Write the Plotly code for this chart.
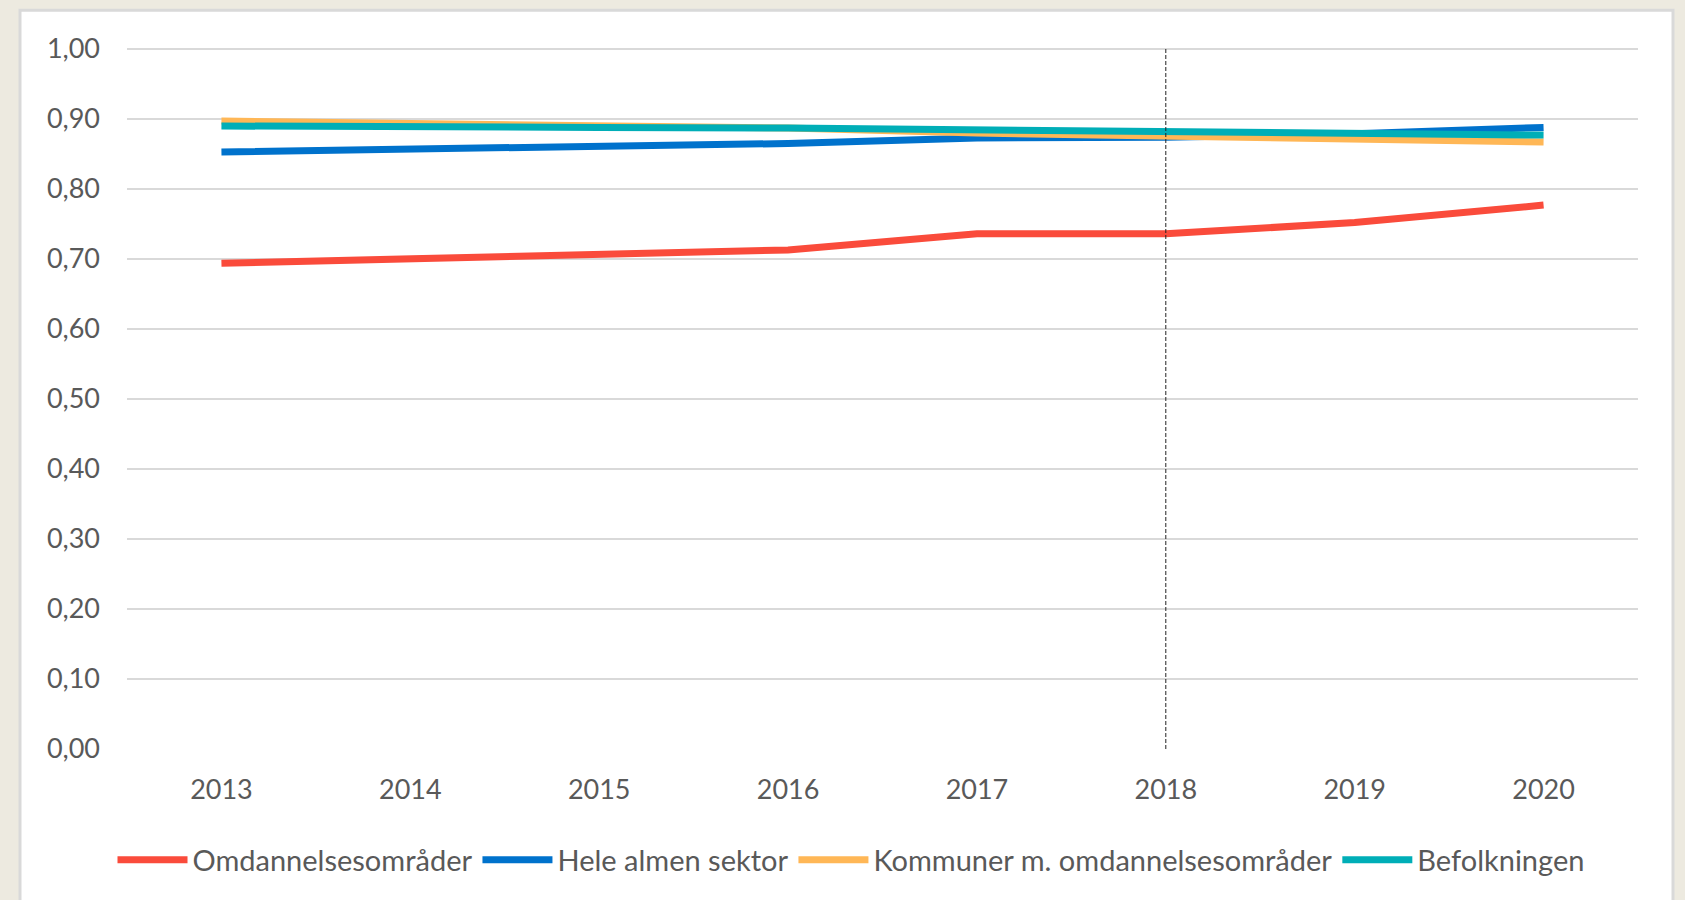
import plotly.graph_objects as go

years = ["2013", "2014", "2015", "2016", "2017", "2018", "2019", "2020"]
omdannelse = [0.694, 0.701, 0.707, 0.713, 0.736, 0.736, 0.752, 0.777]
hele_almen = [0.853, 0.857, 0.860, 0.865, 0.873, 0.874, 0.879, 0.888]
kommuner = [0.897, 0.894, 0.891, 0.887, 0.880, 0.876, 0.871, 0.867]
befolkningen = [0.890, 0.888, 0.888, 0.887, 0.885, 0.882, 0.879, 0.877]
series_names = ["Omdannelsesområder", "Hele almen sektor",
                "Kommuner m. omdannelsesområder", "Befolkningen"]
series_colors = ["#FA4B3B", "#0072CC", "#FFB756", "#00AEB7"]
y_ticks = [0.0, 0.1, 0.2, 0.3, 0.4, 0.5, 0.6, 0.7, 0.8, 0.9, 1.0]
marker_year = "2018"
marker_span = [0.0, 1.0]

W, H = 1685, 900
PL, PR, PB = 127, 1638, 749   # plot area left/right/bottom (px)
YMAX = 1.02
PX_PER_UNIT = 700.3
PT = PB - PX_PER_UNIT * YMAX

def px_x(px):
    return (px - PL) / (PR - PL)

def px_y(py):
    return (PB - py) / (PB - PT)

font_family = "Lato, 'Open Sans', sans-serif"
text_color = "#595959"

fig = go.Figure()
for name, vals, col in zip(series_names, [omdannelse, hele_almen, kommuner, befolkningen], series_colors):
    fig.add_trace(go.Scatter(x=years, y=vals, mode="lines", name=name,
                             line=dict(color=col, width=7)))

# vertical dashed marker line at 2018
fig.add_trace(go.Scatter(x=[marker_year, marker_year], y=marker_span, mode="lines",
                         showlegend=False, hoverinfo="skip",
                         line=dict(color="#222222", width=1, dash="4px,2px")))

# white panel with border
fig.add_shape(type="rect", xref="paper", yref="paper",
              x0=px_x(20), x1=px_x(1673), y0=px_y(920), y1=px_y(10),
              fillcolor="white", line=dict(color="#D9D9D9", width=3), layer="below")

fig.update_layout(
    template="none",
    width=W, height=H,
    margin=dict(l=PL, r=W - PR, t=PT, b=H - PB, pad=0, autoexpand=False),
    paper_bgcolor="#EDEAE0",
    plot_bgcolor="white",
    separators=",.",
    font=dict(family=font_family, size=27, color=text_color),
    showlegend=True,
    legend=dict(orientation="h", x=px_x(851), xanchor="center", y=px_y(860), yanchor="middle",
                font=dict(family=font_family, size=29, color=text_color),
                itemwidth=70, tracegroupgap=0, bgcolor="rgba(0,0,0,0)"),
    xaxis=dict(type="category", range=[-0.5, 7.5], showgrid=False, zeroline=False,
               showline=False, ticks="", ticklabelstandoff=22, automargin=False,
               tickfont=dict(size=27, color=text_color)),
    yaxis=dict(range=[0, YMAX], tickvals=y_ticks, tickformat=".2f", showgrid=True,
               gridcolor="#D9D9D9", gridwidth=2, zeroline=False, showline=False,
               ticks="", ticklabelstandoff=26, automargin=False,
               tickfont=dict(size=27, color=text_color)),
)

fig.write_html("out.html", config={"displayModeBar": False},
               post_script="document.body.style.margin='0';document.body.style.overflow='hidden';")
